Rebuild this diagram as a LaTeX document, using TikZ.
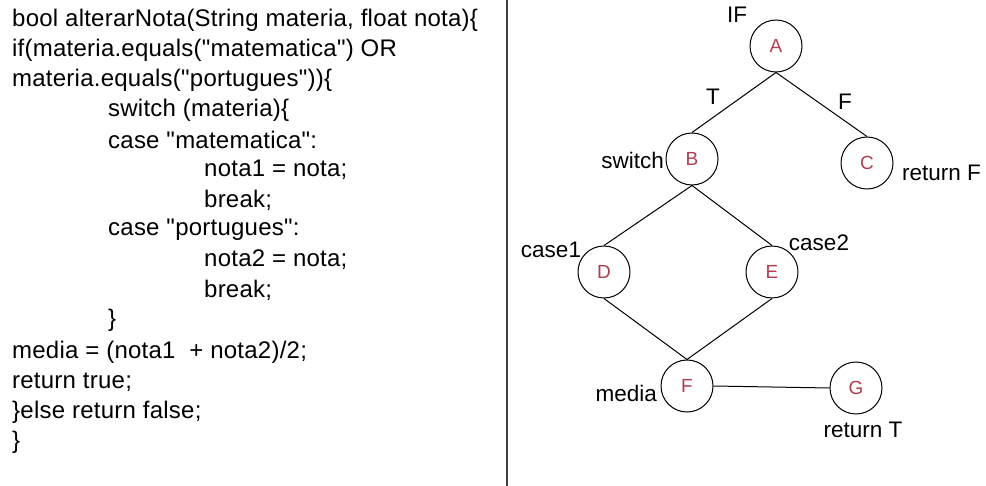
\documentclass[tikz,border=0pt]{standalone}
\usepackage{fontspec}
\setmainfont{Liberation Sans}[Ligatures=TeXOff]
\newfontfamily\codefont{Liberation Sans}[Ligatures=TeXOff,LetterSpace=1]
\definecolor{letter}{RGB}{180,60,80}
\begin{document}
\begin{tikzpicture}[x=1pt,y=-1pt,
  code/.style={anchor=west, inner sep=0pt, font=\codefont\fontsize{24}{24}\selectfont},
  st/.style={circle, draw, line width=1pt, minimum size=52pt, inner sep=0pt, text=letter, font=\fontsize{19}{19}\selectfont},
  lbl/.style={inner sep=0pt, font=\fontsize{22.5}{22.5}\selectfont},
  edge/.style={line width=1pt}]
\useasboundingbox (0,0) rectangle (986,486);
\fill[white] (0,0) rectangle (986,486);
\draw[line width=1.8pt, black!75] (507,0) -- (507,486);
% code
\node[code] (c1)  at (12,20)  {bool alterarNota(String materia, float nota)\{};
\node[code] (c2)  at (12,50)  {if(materia.equals("matematica") OR};
\node[code] (c3)  at (12,80)  {materia.equals("portugues"))\{};
\node[code] (c4)  at (108,110) {switch (materia)\{};
\node[code] (c5)  at (108,140) {case "matematica":};
\node[code] (c6)  at (204,170) {nota1 = nota;};
\node[code] (c7)  at (204,200) {break;};
\node[code] (c8)  at (108,230) {case "portugues":};
\node[code] (c9)  at (204,260) {nota2 = nota;};
\node[code] (c10) at (204,290) {break;};
\node[code] (c11) at (108,320) {\}};
\node[code] (c12) at (12,352) {media = (nota1\ \ + nota2)/2;};
\node[code] (c13) at (12,382) {return true;};
\node[code] (c14) at (12,412) {\}else return false;};
\node[code] (c15) at (12,442) {\}};
% graph
\node[st] (A) at (776,46) {A};
\node[st] (B) at (692,159) {B};
\node[st] (C) at (867,163) {C};
\node[st] (D) at (604,272) {D};
\node[st] (E) at (772,272) {E};
\node[st] (F) at (687,386) {F};
\node[st] (G) at (856,388) {G};
\draw[edge] (A.south) -- (B.north);
\draw[edge] (A.south) -- (C.north);
\draw[edge] (B.south) -- (D.north);
\draw[edge] (B.south) -- (E.north);
\draw[edge] (D.south) -- (F.north);
\draw[edge] (E.south) -- (F.north);
\draw[edge] (F.east) -- (G.west);
% labels
\node[lbl] (lIF) at (737,15) {IF};
\node[lbl] (lT) at (713,97) {T};
\node[lbl] (lF) at (845,102) {F};
\node[lbl, anchor=east] (lsw) at (664,160) {switch};
\node[lbl, anchor=west] (lrf) at (902,173) {return F};
\node[lbl] (lc1) at (551,250) {case1};
\node[lbl] (lc2) at (819,243) {case2};
\node[lbl, anchor=east] (lmed) at (657,393) {media};
\node[lbl] (lrt) at (863,430) {return T};
\end{tikzpicture}
\end{document}
